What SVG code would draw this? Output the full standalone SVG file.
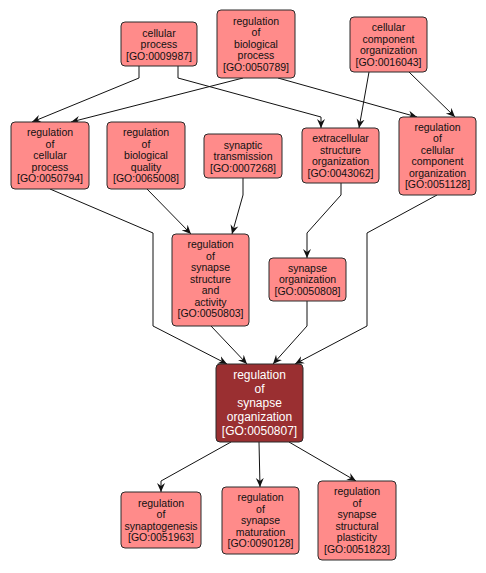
<svg xmlns="http://www.w3.org/2000/svg" width="486" height="573" viewBox="0 0 486 573">
<style>
.n rect{fill:#ff8b8a;stroke:#2a2a2a;stroke-width:1}
.n text{font-family:"Liberation Sans",Arial,sans-serif;font-size:10.5px;fill:#111;text-anchor:middle}
.m rect{fill:#9a2f31;stroke:#2a2a2a;stroke-width:1}
.m text{font-family:"Liberation Sans",Arial,sans-serif;font-size:12px;fill:#fff;text-anchor:middle}
.e polyline{fill:none;stroke:#111;stroke-width:1;marker-end:url(#a)}
</style>
<defs>
<marker id="a" markerUnits="userSpaceOnUse" markerWidth="10" markerHeight="10" refX="9" refY="5" orient="auto">
<path d="M0,1 L9,5 L0,9 L3,5 z" fill="#111"/>
</marker>
</defs>
<rect width="486" height="573" fill="#fff"/>
<g id="edges" class="e">
<polyline points="139,66 139,78 32,122"/>
<polyline points="243,78 71,122"/>
<polyline points="178,66 178,78 321,117 321,128"/>
<polyline points="278,78 417,117"/>
<polyline points="369,72 359,128"/>
<polyline points="409,72 455,117"/>
<polyline points="50,189 153,233 153,326 227,364"/>
<polyline points="147,189 191,234"/>
<polyline points="243,178 243,195 232,234"/>
<polyline points="341,183 341,195 307,233 307,258"/>
<polyline points="437,195 367,233 367,326 295,364"/>
<polyline points="211,326 247,364"/>
<polyline points="307,301 307,326 273,364"/>
<polyline points="231,442 161,481 161,492"/>
<polyline points="259,442 260,487"/>
<polyline points="289,442 356,481"/>
</g>
<g id="n_cp" class="n"><rect x="121" y="22" width="76" height="44" rx="4"/>
<text x="159" y="36.5">cellular</text><text x="159" y="48">process</text><text x="159" y="59.5">[GO:0009987]</text></g>
<g id="n_rbp" class="n"><rect x="217" y="10" width="78" height="68" rx="4"/>
<text x="256" y="24.7">regulation</text><text x="256" y="36.2">of</text><text x="256" y="47.7">biological</text><text x="256" y="59.2">process</text><text x="256" y="70.7">[GO:0050789]</text></g>
<g id="n_cco" class="n"><rect x="350" y="17" width="77" height="55" rx="4"/>
<text x="388.5" y="31">cellular</text><text x="388.5" y="42.5">component</text><text x="388.5" y="54">organization</text><text x="388.5" y="65.5">[GO:0016043]</text></g>
<g id="n_rcp" class="n"><rect x="11" y="122" width="78" height="67" rx="4"/>
<text x="50" y="136.2">regulation</text><text x="50" y="147.7">of</text><text x="50" y="159.2">cellular</text><text x="50" y="170.7">process</text><text x="50" y="182.2">[GO:0050794]</text></g>
<g id="n_rbq" class="n"><rect x="107" y="122" width="78" height="67" rx="4"/>
<text x="146" y="136.2">regulation</text><text x="146" y="147.7">of</text><text x="146" y="159.2">biological</text><text x="146" y="170.7">quality</text><text x="146" y="182.2">[GO:0065008]</text></g>
<g id="n_st" class="n"><rect x="204" y="134" width="78" height="44" rx="4"/>
<text x="243" y="148.5">synaptic</text><text x="243" y="160">transmission</text><text x="243" y="171.5">[GO:0007268]</text></g>
<g id="n_eso" class="n"><rect x="302" y="128" width="77" height="55" rx="4"/>
<text x="340.5" y="142">extracellular</text><text x="340.5" y="153.5">structure</text><text x="340.5" y="165">organization</text><text x="340.5" y="176.5">[GO:0043062]</text></g>
<g id="n_rcco" class="n"><rect x="399" y="117" width="77" height="78" rx="4"/>
<text x="437.5" y="130.5">regulation</text><text x="437.5" y="142">of</text><text x="437.5" y="153.5">cellular</text><text x="437.5" y="165">component</text><text x="437.5" y="176.5">organization</text><text x="437.5" y="188">[GO:0051128]</text></g>
<g id="n_rssa" class="n"><rect x="172" y="234" width="77" height="92" rx="4"/>
<text x="210.5" y="248.2">regulation</text><text x="210.5" y="259.7">of</text><text x="210.5" y="271.2">synapse</text><text x="210.5" y="282.7">structure</text><text x="210.5" y="294.2">and</text><text x="210.5" y="305.7">activity</text><text x="210.5" y="317.2">[GO:0050803]</text></g>
<g id="n_so" class="n"><rect x="269" y="258" width="77" height="43" rx="4"/>
<text x="307.5" y="271.7">synapse</text><text x="307.5" y="283.2">organization</text><text x="307.5" y="294.7">[GO:0050808]</text></g>
<g id="n_main" class="m"><rect x="216" y="364" width="87" height="78" rx="4"/>
<text x="259.5" y="379">regulation</text><text x="259.5" y="393">of</text><text x="259.5" y="407">synapse</text><text x="259.5" y="421">organization</text><text x="259.5" y="435">[GO:0050807]</text></g>
<g id="n_sg" class="n"><rect x="121" y="492" width="80" height="56" rx="4"/>
<text x="161" y="506.5">regulation</text><text x="161" y="518">of</text><text x="161" y="529.5">synaptogenesis</text><text x="161" y="541">[GO:0051963]</text></g>
<g id="n_sm" class="n"><rect x="222" y="487" width="77" height="67" rx="4"/>
<text x="260.5" y="501.2">regulation</text><text x="260.5" y="512.7">of</text><text x="260.5" y="524.2">synapse</text><text x="260.5" y="535.7">maturation</text><text x="260.5" y="547.2">[GO:0090128]</text></g>
<g id="n_ssp" class="n"><rect x="318" y="481" width="78" height="79" rx="4"/>
<text x="357" y="495">regulation</text><text x="357" y="506.5">of</text><text x="357" y="518">synapse</text><text x="357" y="529.5">structural</text><text x="357" y="541">plasticity</text><text x="357" y="552.5">[GO:0051823]</text></g>
</svg>
